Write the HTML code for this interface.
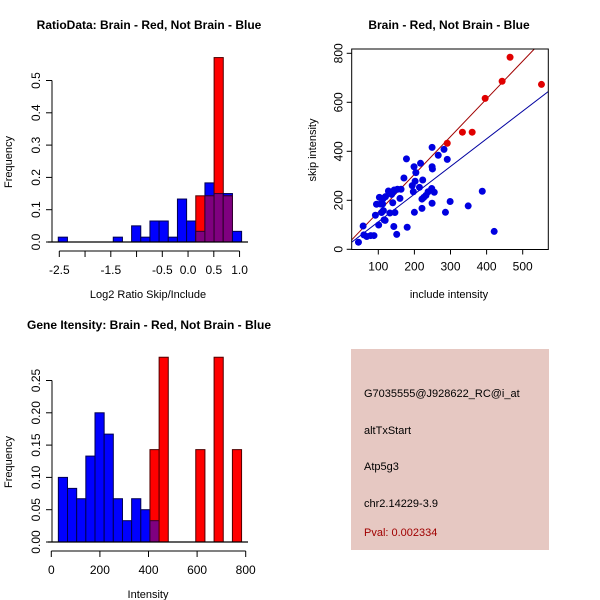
<!DOCTYPE html>
<html><head><meta charset="utf-8"><style>
body{margin:0;background:#fff}
svg{display:block;font-family:"Liberation Sans",sans-serif}
</style></head><body>
<svg id="c" width="600" height="600" viewBox="0 0 600 600" xmlns="http://www.w3.org/2000/svg">
<rect width="600" height="600" fill="#fff"/>
<g id="p1"></g>
<g id="p2"></g>
<g id="p3"></g>
<g id="p4">
<rect x="351" y="349" width="198" height="201" fill="#e6c8c2"/>
<text x="364" y="397" font-size="11" fill="#000">G7035555@J928622_RC@i_at</text>
<text x="364" y="434" font-size="11" fill="#000">altTxStart</text>
<text x="364" y="470" font-size="11" fill="#000">Atp5g3</text>
<text x="364" y="507" font-size="11" fill="#000">chr2.14229-3.9</text>
<text x="364" y="536" font-size="11" fill="#a00000">Pval: 0.002334</text>
</g>
</svg>
<script>
// Histogram 1 data
const ratioStart = -2.52, ratioWidth = 0.178;
const ratioBlue = [0.015,0,0,0,0,0,0.015,0,0.05,0.015,0.065,0.065,0.015,0.133,0.065,0.033,0.183,0.15,0.15,0.033];
const ratioRed  = [0,0,0,0,0,0,0,0,0,0,0,0,0,0,0,0.143,0.143,0.571,0.143,0];
const ratioXTicks = [-2.5,-2,-1.5,-1,-0.5,0,0.5,1];
const ratioXLabels = ["-2.5","","-1.5","","-0.5","0.0","0.5","1.0"];
const ratioYTicks = [0,0.1,0.2,0.3,0.4,0.5];
const ratioYLabels = ["0.0","0.1","0.2","0.3","0.4","0.5"];
// Histogram 2 data
const intStart = 29, intWidth = 37.7;
const intBlue = [0.1,0.083,0.067,0.133,0.2,0.167,0.067,0.033,0.067,0.05,0.033,0,0,0,0,0,0,0,0,0];
const intRed  = [0,0,0,0,0,0,0,0,0,0,0.143,0.286,0,0,0,0.143,0,0.286,0,0.143];
const intXTicks = [0,200,400,600,800];
const intXLabels = ["0","200","400","600","800"];
const intYTicks = [0,0.05,0.1,0.15,0.2,0.25];
const intYLabels = ["0.00","0.05","0.10","0.15","0.20","0.25"];
// Scatter data
const redX = [291,333,360,396,443,465,552];
const redY = [433,478,478,616,686,784,673];
const blueX = [45,58,60,68,79,88,92,101,103,106,109,112,114,114,116,119,132,137,140,142,143,144,146,151,153,160,163,171,178,180,194,197,199,200,202,204,214,217,221,221,223,226,232,238,249,249,249,255,266,282,286,291,299,349,388,421,248,250,120,128,95];
const blueY = [29,95,59,52,56,56,139,99,212,185,150,185,208,158,120,118,148,224,190,235,93,242,150,61,245,208,245,291,369,90,260,235,337,151,278,313,253,351,205,167,283,212,220,235,416,337,188,233,384,408,151,367,195,177,237,73,248,328,215,238,184];
const redLine = [-2, 1.54];
const blueLine = [-1, 1.13];
const scXTicks = [100,200,300,400,500];
const scYTicks = [0,200,400,600,800];

const NS="http://www.w3.org/2000/svg";
function mk(parent,tag,attrs){const e=document.createElementNS(NS,tag);for(const k in attrs)e.setAttribute(k,attrs[k]);parent.appendChild(e);return e;}
function txt(parent,x,y,s,size,rot,anchor,weight){const t=mk(parent,'text',{x:x,y:y,'font-size':size,'text-anchor':anchor||'middle','font-weight':weight||'normal'});if(rot)t.setAttribute('transform','rotate(-90 '+x+' '+y+')');t.textContent=s;return t;}

function hist(g,cfg){
  const sx=v=>cfg.x0+(v-cfg.v0)*cfg.kx, sy=v=>cfg.y0-v*cfg.ky;
  const n=cfg.blue.length;
  for(let i=0;i<n;i++){
    const a=cfg.start+i*cfg.width, b=a+cfg.width, x=sx(a), w=sx(b)-x;
    const bl=cfg.blue[i], rd=cfg.red[i], mn=Math.min(bl,rd);
    if(bl>0){const r=mk(g,'rect',{x:x,y:sy(bl),width:w,height:sy(0)-sy(bl),fill:'#0000ff',stroke:'#000050','stroke-width':1});
      }
    if(rd>0){const r=mk(g,'rect',{x:x,y:sy(rd),width:w,height:sy(0)-sy(rd),fill:'#ff0000',stroke:'#500000','stroke-width':1});
      }
    if(mn>0){const r=mk(g,'rect',{x:x,y:sy(mn),width:w,height:sy(0)-sy(mn),fill:'#7f007f',stroke:'#300030','stroke-width':1});
      }
  }
  const base=mk(g,'line',{x1:48,x2:248,y1:cfg.y0,y2:cfg.y0,stroke:'#000','stroke-width':1.3});
  
  const ax=mk(g,'g',{});
  const ya=cfg.y0+9;
  mk(ax,'line',{x1:sx(cfg.xt[0]),x2:sx(cfg.xt[cfg.xt.length-1]),y1:ya,y2:ya,stroke:'#000'});
  cfg.xt.forEach((v,i)=>{mk(ax,'line',{x1:sx(v),x2:sx(v),y1:ya,y2:ya+6,stroke:'#000'});if(cfg.xl[i])txt(ax,sx(v),ya+23,cfg.xl[i],12);});
  const ay=mk(g,'g',{});
  const xa=52;
  mk(ay,'line',{x1:xa,x2:xa,y1:sy(cfg.yt[0]),y2:sy(cfg.yt[cfg.yt.length-1]),stroke:'#000'});
  cfg.yt.forEach((v,i)=>{mk(ay,'line',{x1:xa-6,x2:xa,y1:sy(v),y2:sy(v),stroke:'#000'});txt(ay,xa-12,sy(v),cfg.yl[i],12,true);});
  const xt=txt(g,148,cfg.y0+56,cfg.xlab,11);
  const yt=txt(g,12,cfg.y0-80,'Frequency',11,true);
  const tt=txt(g,149,cfg.titleY,cfg.title,12,false,'middle','bold');
}
hist(document.getElementById('p1'),{x0:59.3,v0:-2.5,kx:51.5,y0:242,ky:323,start:ratioStart,width:ratioWidth,blue:ratioBlue,red:ratioRed,xt:ratioXTicks,xl:ratioXLabels,yt:ratioYTicks,yl:ratioYLabels,xlab:'Log2 Ratio Skip/Include',title:'RatioData: Brain - Red, Not Brain - Blue',titleY:29});
hist(document.getElementById('p3'),{x0:51.3,v0:0,kx:0.243,y0:542,ky:646,start:intStart,width:intWidth,blue:intBlue,red:intRed,xt:intXTicks,xl:intXLabels,yt:intYTicks,yl:intYLabels,xlab:'Intensity',title:'Gene Itensity: Brain - Red, Not Brain - Blue',titleY:329});

// scatter
(function(){
  const g=document.getElementById('p2');
  const L=351.7,R=548.3,T=49,B=249.5;
  const sx=v=>378.3+(v-100)*0.361, sy=v=>249.3-v*0.245;
  const cp=mk(g,'clipPath',{id:'clip'});mk(cp,'rect',{x:L,y:T,width:R-L,height:B-T});
  const lines=mk(g,'g',{'clip-path':'url(#clip)'});
  const xa=-50,xb=650;
  const rl=mk(lines,'line',{x1:sx(xa),y1:sy(redLine[0]+redLine[1]*xa),x2:sx(xb),y2:sy(redLine[0]+redLine[1]*xb),stroke:'#a00000','stroke-width':1});
  
  const bl=mk(lines,'line',{x1:sx(xa),y1:sy(blueLine[0]+blueLine[1]*xa),x2:sx(xb),y2:sy(blueLine[0]+blueLine[1]*xb),stroke:'#0000a0','stroke-width':1});
  
  blueX.forEach((v,i)=>{const c=mk(g,'circle',{cx:sx(v),cy:sy(blueY[i]),r:3.5,fill:'#0000e0'});
    });
  redX.forEach((v,i)=>{const c=mk(g,'circle',{cx:sx(v),cy:sy(redY[i]),r:3.5,fill:'#e00000'});
    });
  const box=mk(g,'rect',{x:L,y:T,width:R-L,height:B-T,fill:'none',stroke:'#000','stroke-width':1});
  
  const ax=mk(g,'g',{});
  scXTicks.forEach(v=>{mk(ax,'line',{x1:sx(v),x2:sx(v),y1:B,y2:B+5,stroke:'#000'});txt(ax,sx(v),B+21,String(v),12);});
  const ay=mk(g,'g',{});
  scYTicks.forEach(v=>{mk(ay,'line',{x1:L-5,x2:L,y1:sy(v),y2:sy(v),stroke:'#000'});txt(ay,L-9,sy(v),String(v),12,true);});
  const xt=txt(g,449,298,'include intensity',11);
  const yt=txt(g,316,150,'skip intensity',11,true);
  const tt=txt(g,449,29,'Brain - Red, Not Brain - Blue',12,false,'middle','bold');
})();
</script>
</body></html>
